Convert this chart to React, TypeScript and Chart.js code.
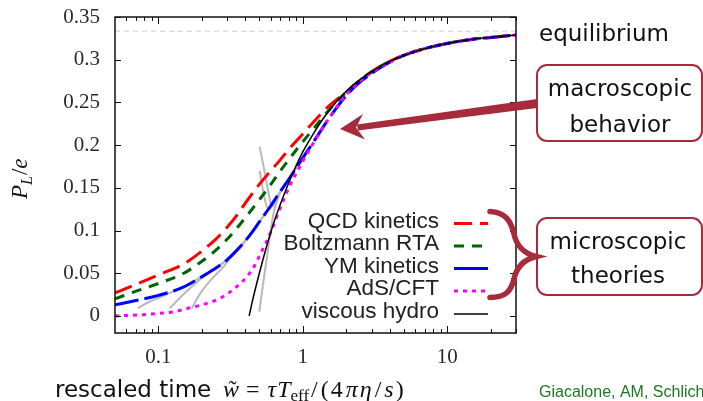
import { useEffect, useRef } from 'react';
import { Chart, registerables } from 'chart.js';

Chart.register(...registerables);

const W = 703;
const H = 401;

// ---- axes ----
const xMin = 0.05;
const xMax = 30;
const yMin = -0.02;
const yMax = 0.35;
const xTickValues = [0.1, 1, 10];
const xTickLabels = ['0.1', '1', '10'];
const xMinorTicks = [0.06, 0.07, 0.08, 0.09, 0.2, 0.3, 0.4, 0.5, 0.6, 0.7, 0.8, 0.9, 2, 3, 4, 5, 6, 7, 8, 9, 20, 30];
const yTickValues = [0, 0.05, 0.1, 0.15, 0.2, 0.25, 0.3, 0.35];
const yTickLabels = ['0', '0.05', '0.1', '0.15', '0.2', '0.25', '0.3', '0.35'];
const equilibriumValue = 1 / 3;

// ---- series: P_L/e versus rescaled time w ----
const seriesNames = ['QCD kinetics', 'Boltzmann RTA', 'YM kinetics', 'AdS/CFT', 'viscous hydro'];

const qcdW = [0.05, 0.07, 0.1, 0.15, 0.2, 0.25, 0.3, 0.35, 0.4, 0.5, 0.6, 0.7, 0.8, 1, 1.2, 1.5, 2, 2.5, 3, 4, 5, 7, 10, 15, 20, 30];
const qcdP = [0.027, 0.037, 0.048, 0.061, 0.076, 0.09, 0.104, 0.118, 0.132, 0.154, 0.17, 0.183, 0.195, 0.213, 0.228, 0.245, 0.262, 0.276, 0.286, 0.298, 0.305, 0.313, 0.319, 0.324, 0.326, 0.329];

const rtaW = [0.05, 0.07, 0.1, 0.15, 0.2, 0.25, 0.3, 0.35, 0.4, 0.5, 0.6, 0.7, 0.8, 1, 1.2, 1.5, 2, 2.5, 3, 4, 5, 7, 10, 15, 20, 30];
const rtaP = [0.02, 0.029, 0.038, 0.05, 0.064, 0.077, 0.09, 0.103, 0.115, 0.136, 0.154, 0.17, 0.183, 0.204, 0.22, 0.24, 0.262, 0.276, 0.286, 0.298, 0.305, 0.313, 0.319, 0.324, 0.326, 0.329];

const ymW = [0.05, 0.07, 0.1, 0.15, 0.2, 0.25, 0.3, 0.35, 0.4, 0.45, 0.5, 0.6, 0.7, 0.8, 1, 1.2, 1.5, 2, 2.5, 3, 4, 5, 7, 10, 15, 20, 30];
const ymP = [0.013, 0.018, 0.024, 0.034, 0.046, 0.056, 0.066, 0.077, 0.088, 0.099, 0.11, 0.129, 0.146, 0.16, 0.185, 0.205, 0.23, 0.258, 0.274, 0.284, 0.297, 0.305, 0.313, 0.319, 0.324, 0.326, 0.329];

const adsW = [0.05, 0.07, 0.1, 0.13, 0.16, 0.2, 0.27, 0.33, 0.41, 0.46, 0.51, 0.6, 0.7, 0.8, 1, 1.2, 1.5, 2, 2.5, 3, 4, 5, 7, 10, 15, 20, 30];
const adsP = [0.0, 0.001, 0.003, 0.005, 0.009, 0.013, 0.021, 0.031, 0.046, 0.058, 0.073, 0.098, 0.127, 0.15, 0.181, 0.204, 0.23, 0.259, 0.275, 0.285, 0.297, 0.305, 0.313, 0.319, 0.324, 0.326, 0.329];

const hydroW = [0.425, 0.45, 0.5, 0.55, 0.6, 0.7, 0.8, 0.9, 1, 1.2, 1.5, 2, 2.5, 3, 4, 5, 7, 10, 15, 20, 30];
const hydroP = [0.0, 0.019, 0.05, 0.076, 0.098, 0.131, 0.156, 0.176, 0.192, 0.215, 0.239, 0.263, 0.277, 0.286, 0.298, 0.305, 0.313, 0.319, 0.324, 0.326, 0.329];

// thin grey trajectories flowing onto the attractor
const grey1W = [0.072, 0.085, 0.1, 0.12, 0.15, 0.2, 0.25, 0.3, 0.4, 0.5, 0.6, 0.8, 1];
const grey1P = [0.009, 0.016, 0.021, 0.027, 0.034, 0.046, 0.056, 0.066, 0.088, 0.11, 0.129, 0.16, 0.185];
const grey2W = [0.12, 0.135, 0.155, 0.18, 0.22, 0.3, 0.4, 0.5, 0.6, 0.8, 1];
const grey2P = [0.009, 0.018, 0.028, 0.038, 0.05, 0.066, 0.088, 0.11, 0.129, 0.16, 0.185];
const grey3W = [0.17, 0.196, 0.23, 0.284, 0.33, 0.4, 0.5, 0.6, 0.8, 1];
const grey3P = [0.009, 0.027, 0.042, 0.058, 0.072, 0.088, 0.11, 0.129, 0.16, 0.185];
const grey4W = [0.5, 0.535, 0.565, 0.627, 0.68, 0.8, 1];
const grey4P = [0.005, 0.042, 0.069, 0.12, 0.14, 0.16, 0.185];
const grey5W = [0.502, 0.535, 0.579, 0.61, 0.7, 0.8, 1];
const grey5P = [0.198, 0.175, 0.144, 0.128, 0.146, 0.16, 0.185];
const grey6W = [0.502, 0.55, 0.58, 0.7, 0.8, 1];
const grey6P = [0.17, 0.134, 0.125, 0.146, 0.16, 0.185];

const pts = (ws: number[], ps: number[]) => ws.map((w, i) => ({ x: w, y: ps[i] }));

const ACCENT = '#a62b3c';
const SERIF = '"Liberation Serif", "Times New Roman", serif';
const SANS = '"DejaVu Sans", sans-serif';
const LEGEND_SANS = '"Liberation Sans", Arial, sans-serif';

type Run = { t: string; f: string; dy?: number; gap?: number };

function drawRuns(ctx: CanvasRenderingContext2D, runs: Run[], x: number, y: number) {
  let cx = x;
  for (const r of runs) {
    ctx.font = r.f;
    ctx.fillText(r.t, cx, y + (r.dy || 0));
    cx += ctx.measureText(r.t).width + (r.gap || 0);
  }
  return cx;
}

const overlay = {
  id: 'overlay',
  afterDatasetsDraw(chart: any) {
    const { ctx, chartArea: a, scales } = chart;
    const xs = scales.x;
    const ys = scales.y;
    ctx.save();
    ctx.strokeStyle = '#111';
    ctx.lineWidth = 1;
    ctx.setLineDash([]);
    ctx.beginPath();
    for (const v of yTickValues) {
      const py = Math.round(ys.getPixelForValue(v)) + 0.5;
      ctx.moveTo(a.left, py);
      ctx.lineTo(a.left + 6, py);
      ctx.moveTo(a.right, py);
      ctx.lineTo(a.right - 6, py);
    }
    for (const v of xTickValues) {
      const px = Math.round(xs.getPixelForValue(v)) + 0.5;
      ctx.moveTo(px, a.bottom);
      ctx.lineTo(px, a.bottom - 7);
      ctx.moveTo(px, a.top);
      ctx.lineTo(px, a.top + 7);
    }
    for (const v of xMinorTicks) {
      const px = Math.round(xs.getPixelForValue(v)) + 0.5;
      ctx.moveTo(px, a.bottom);
      ctx.lineTo(px, a.bottom - 4);
      ctx.moveTo(px, a.top);
      ctx.lineTo(px, a.top + 4);
    }
    ctx.stroke();
    ctx.lineWidth = 1.5;
    ctx.strokeRect(a.left, a.top, a.right - a.left, a.bottom - a.top);
    ctx.restore();
  },
  afterDraw(chart: any) {
    const { ctx } = chart;
    ctx.save();

    // legend inside the plot, text right-aligned with line samples
    const rowY = [221.5, 244, 266.5, 289, 312];
    ctx.textBaseline = 'middle';
    for (let i = 0; i < seriesNames.length; i++) {
      const ds = chart.data.datasets[i];
      ctx.font = `22.5px ${LEGEND_SANS}`;
      ctx.fillStyle = '#222';
      ctx.textAlign = 'right';
      ctx.fillText(seriesNames[i], 439, rowY[i]);
      ctx.beginPath();
      ctx.strokeStyle = ds.borderColor;
      ctx.lineWidth = ds.borderWidth;
      ctx.setLineDash(i === 2 ? [] : ds.borderDash || []);
      ctx.moveTo(454, rowY[i] + 2);
      ctx.lineTo(488, rowY[i] + 2);
      ctx.stroke();
    }
    ctx.setLineDash([]);

    // right-hand annotations
    ctx.textBaseline = 'alphabetic';
    ctx.textAlign = 'left';
    ctx.fillStyle = '#111';
    ctx.font = `23px ${SANS}`;
    ctx.fillText('equilibrium', 539, 41);

    ctx.strokeStyle = ACCENT;
    ctx.lineWidth = 2;
    ctx.beginPath();
    ctx.roundRect(537, 65, 165, 76, 10);
    ctx.stroke();
    ctx.beginPath();
    ctx.roundRect(537, 218, 165, 77, 10);
    ctx.stroke();

    ctx.textAlign = 'center';
    ctx.fillText('macroscopic', 620, 96);
    ctx.fillText('behavior', 620, 132);
    ctx.fillText('microscopic', 618, 249);
    ctx.fillText('theories', 618, 283);

    // arrow pointing at the collapsed curves
    ctx.fillStyle = ACCENT;
    ctx.beginPath();
    ctx.moveTo(537, 99);
    ctx.lineTo(537, 108);
    ctx.lineTo(358, 130.5);
    ctx.lineTo(357, 124.5);
    ctx.closePath();
    ctx.fill();
    ctx.beginPath();
    ctx.moveTo(340, 129);
    ctx.lineTo(363, 114);
    ctx.lineTo(356, 127.5);
    ctx.lineTo(365, 139.5);
    ctx.closePath();
    ctx.fill();

    // brace grouping the legend entries
    ctx.strokeStyle = ACCENT;
    ctx.lineWidth = 5.5;
    ctx.lineCap = 'round';
    ctx.beginPath();
    ctx.moveTo(490, 211.5);
    ctx.bezierCurveTo(506, 212, 511, 222, 514, 234);
    ctx.bezierCurveTo(517, 248, 526, 254, 536, 256.5);
    ctx.bezierCurveTo(526, 259, 517, 265, 514, 279);
    ctx.bezierCurveTo(511, 291, 506, 297.5, 490, 297.5);
    ctx.stroke();

    // credit line
    ctx.textAlign = 'left';
    ctx.fillStyle = '#1d7a1d';
    ctx.font = `16px ${LEGEND_SANS}`;
    ctx.fillText('Giacalone, AM, Schlich', 539, 397);

    // x-axis title
    ctx.fillStyle = '#111';
    ctx.font = `23px ${SANS}`;
    ctx.fillText('rescaled time', 55, 397);
    const it = `italic 24px ${SERIF}`;
    const rm = `24px ${SERIF}`;
    const sub = `17px ${SERIF}`;
    const wx = 223;
    ctx.font = it;
    const wWidth = ctx.measureText('w').width;
    drawRuns(ctx, [
      { t: 'w', f: it, gap: 7 },
      { t: '=', f: rm, gap: 8 },
      { t: 'τ', f: it, gap: 1 },
      { t: 'T', f: it },
      { t: 'eff', f: sub, dy: 4, gap: 2 },
      { t: '/', f: rm, gap: 3 },
      { t: '(', f: rm, gap: 2 },
      { t: '4', f: rm, gap: 3 },
      { t: 'π', f: it, gap: 2 },
      { t: 'η', f: it, gap: 3 },
      { t: '/', f: rm, gap: 3 },
      { t: 's', f: it, gap: 2 },
      { t: ')', f: rm },
    ], wx, 397);
    ctx.font = rm;
    ctx.textAlign = 'center';
    ctx.fillText('˜', wx + wWidth / 2 + 1.5, 397);

    // y-axis title
    ctx.textAlign = 'left';
    ctx.translate(27, 199);
    ctx.rotate(-Math.PI / 2);
    drawRuns(ctx, [
      { t: 'P', f: `italic 23px ${SERIF}` },
      { t: 'L', f: `italic 16px ${SERIF}`, dy: 5, gap: 1 },
      { t: '/', f: `23px ${SERIF}` },
      { t: 'e', f: `italic 23px ${SERIF}` },
    ], 0, 0);

    ctx.restore();
  },
};

export default function App() {
  const canvasRef = useRef<HTMLCanvasElement>(null);

  useEffect(() => {
    document.body.style.margin = '0';
    const canvas = canvasRef.current;
    if (!canvas) return;

    const tickFont = { family: SERIF, size: 21 };

    const chart = new Chart(canvas, {
      type: 'line',
      data: {
        datasets: [
          {
            label: seriesNames[0],
            data: pts(qcdW, qcdP),
            borderColor: '#ff0000',
            borderWidth: 3,
            borderDash: [18, 8],
            order: 4,
          },
          {
            label: seriesNames[1],
            data: pts(rtaW, rtaP),
            borderColor: '#006400',
            borderWidth: 3,
            borderDash: [10, 8],
            order: 3,
          },
          {
            label: seriesNames[2],
            data: pts(ymW, ymP),
            borderColor: '#0000ff',
            borderWidth: 3,
            borderDash: [24, 6],
            order: 2,
          },
          {
            label: seriesNames[3],
            data: pts(adsW, adsP),
            borderColor: '#ff00ff',
            borderWidth: 3,
            borderDash: [4, 5],
            order: 1,
          },
          {
            label: seriesNames[4],
            data: pts(hydroW, hydroP),
            borderColor: '#000000',
            borderWidth: 1.5,
            order: 0,
          },
          ...[
            [grey1W, grey1P],
            [grey2W, grey2P],
            [grey3W, grey3P],
            [grey4W, grey4P],
            [grey5W, grey5P],
            [grey6W, grey6P],
          ].map(([ws, ps]) => ({
            label: 'trajectory',
            data: pts(ws, ps),
            borderColor: '#b9b9b9',
            borderWidth: 2,
            order: 5,
          })),
          {
            label: 'equilibrium',
            data: [
              { x: xMin, y: equilibriumValue },
              { x: xMax, y: equilibriumValue },
            ],
            borderColor: '#cfcfcf',
            borderWidth: 1,
            borderDash: [5, 4],
            order: 6,
          },
        ],
      },
      options: {
        animation: false,
        responsive: false,
        devicePixelRatio: 1,
        layout: { padding: { left: 0, top: 17, right: 187, bottom: 0 } },
        elements: {
          point: { radius: 0 },
          line: { cubicInterpolationMode: 'monotone', borderCapStyle: 'butt', fill: false },
        },
        plugins: {
          legend: { display: false },
          tooltip: { enabled: false },
        },
        scales: {
          x: {
            type: 'logarithmic',
            min: xMin,
            max: xMax,
            grid: { display: false, drawTicks: false },
            border: { display: false },
            afterBuildTicks: (s: any) => {
              s.ticks = xTickValues.map((v) => ({ value: v }));
            },
            afterFit: (s: any) => {
              s.height = 68;
              s.paddingLeft = 0;
              s.paddingRight = 0;
            },
            ticks: {
              autoSkip: false,
              maxRotation: 0,
              padding: 12,
              color: '#2a2a2a',
              font: tickFont,
              callback: (_v: any, i: number) => xTickLabels[i],
            },
          },
          y: {
            type: 'linear',
            min: yMin,
            max: yMax,
            grid: { display: false, drawTicks: false },
            border: { display: false },
            afterBuildTicks: (s: any) => {
              s.ticks = yTickValues.map((v) => ({ value: v }));
            },
            afterFit: (s: any) => {
              s.width = 115;
              s.paddingTop = 0;
              s.paddingBottom = 0;
            },
            ticks: {
              autoSkip: false,
              padding: 15,
              color: '#2a2a2a',
              font: tickFont,
              callback: (_v: any, i: number) => yTickLabels[i],
            },
          },
        },
      } as any,
      plugins: [overlay],
    });

    return () => chart.destroy();
  }, []);

  return (
    <div style={{ position: 'relative', width: W, height: H, background: '#fff' }}>
      <canvas ref={canvasRef} width={W} height={H} style={{ display: 'block', width: W, height: H }} />
    </div>
  );
}
